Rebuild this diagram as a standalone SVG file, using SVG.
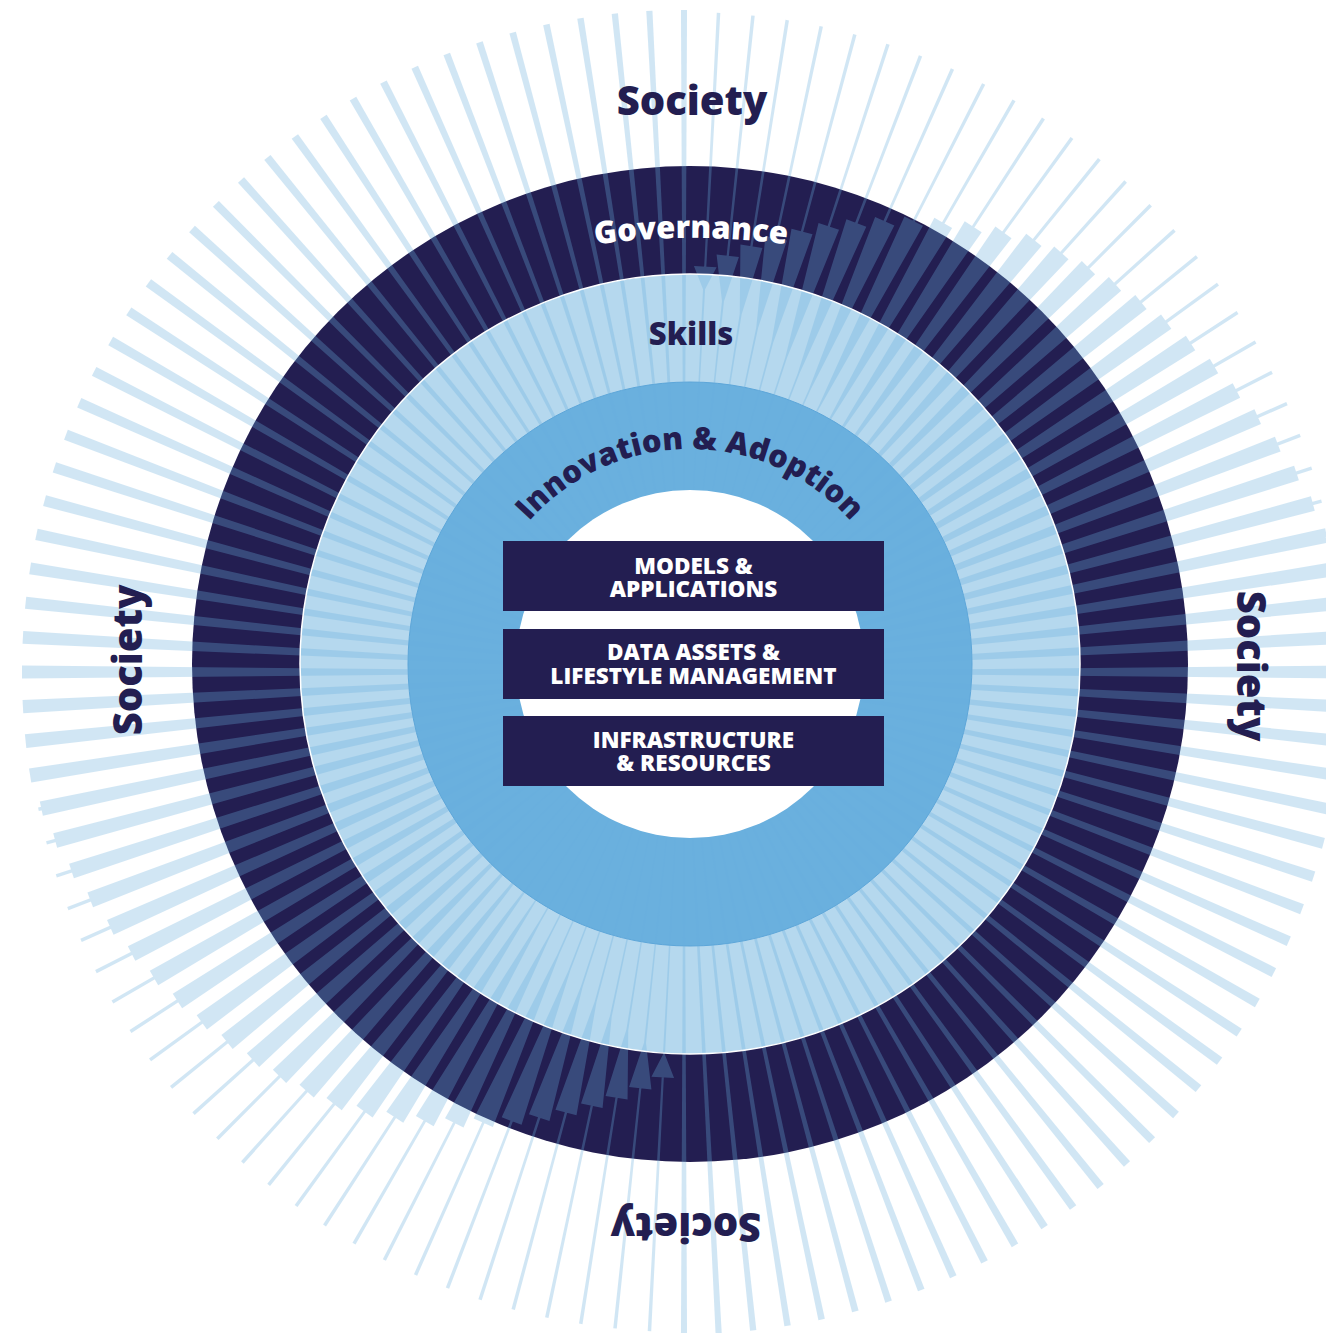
<svg xmlns="http://www.w3.org/2000/svg" xmlns:xlink="http://www.w3.org/1999/xlink" width="1326" height="1333" viewBox="0 0 1326 1333">
<defs>
<style>
.f{font-family:"Open Sans","Noto Sans","DejaVu Sans",sans-serif;font-weight:800}
.soc{font-size:40px;fill:#231e51;text-anchor:middle}
.ring{font-size:31px;text-anchor:middle}
.box{fill:#231e51}
.bt{font-size:22.5px;fill:#ffffff;text-anchor:middle}
</style>
<path id="govArc" d="M391 305.5A700 700 0 0 1 991 305.5"/>
<path id="innArc" d="M475 664A215 215 0 0 1 905 664"/>
</defs>
<rect width="1326" height="1333" fill="#ffffff"/>
<g id="rings">
<circle cx="690" cy="664" r="498" fill="#231e51"/>
<circle cx="690" cy="664" r="390" fill="#b5d8ee"/>
<circle cx="690" cy="664" r="282" fill="#6ab0de" stroke="#5da6d9" stroke-width="1"/>
</g>
<g id="rays" fill="#69afde" opacity="0.3">
<g id="half" transform="translate(684 672)">
<path transform="rotate(3)" d="M0 0L-1.75-660H1.75ZM0-381L-11.34-406H11.34Z"/>
<path transform="rotate(6)" d="M0 0L-1.75-660H1.75ZM0-368.5L-11.24-418.5H11.24Z"/>
<path transform="rotate(9)" d="M0 0L-1.75-660H1.75ZM0-356L-11.13-431H11.13Z"/>
<path transform="rotate(12)" d="M0 0L-1.75-660H1.75ZM0-343.5L-11.01-443.5H11.01Z"/>
<path transform="rotate(15)" d="M0 0L-1.75-660H1.75ZM0-331L-10.89-456H10.89Z"/>
<path transform="rotate(18)" d="M0 0L-1.75-660H1.75ZM0-318.5L-10.77-468.5H10.77Z"/>
<path transform="rotate(21)" d="M0 0L-1.75-660H1.75ZM0-306L-10.64-481H10.64Z"/>
<path transform="rotate(24)" d="M0 0L-1.75-660H1.75ZM0-293.5L-10.51-493.5H10.51Z"/>
<path transform="rotate(27)" d="M0 0L-1.75-660H1.75ZM0-281L-10.37-506H10.37Z"/>
<path transform="rotate(30)" d="M0 0L-1.75-660H1.75ZM0-268.5L-10.24-518.5H10.24Z"/>
<path transform="rotate(33)" d="M0 0L-1.75-660H1.75ZM0-256L-10.09-531H10.09Z"/>
<path transform="rotate(36)" d="M0 0L-1.75-660H1.75ZM0-243.5L-9.96-543.5H9.96Z"/>
<path transform="rotate(39)" d="M0 0L-1.75-660H1.75ZM0-231L-9.81-556H9.81Z"/>
<path transform="rotate(42)" d="M0 0L-1.75-660H1.75ZM0-214L-9.59-564H9.59Z"/>
<path transform="rotate(45)" d="M0 0L-1.75-660H1.75ZM0-197L-9.38-572H9.38Z"/>
<path transform="rotate(48)" d="M0 0L-1.75-660H1.75ZM0-180L-9.17-580H9.17Z"/>
<path transform="rotate(51)" d="M0 0L-1.75-660H1.75ZM0-163L-8.96-588H8.96Z"/>
<path transform="rotate(54)" d="M0 0L-1.75-660H1.75ZM0-146L-8.77-596H8.77Z"/>
<path transform="rotate(57)" d="M0 0L-1.75-660H1.75ZM0-129L-8.58-604H8.58Z"/>
<path transform="rotate(60)" d="M0 0L-1.75-660H1.75ZM0-112L-8.39-612H8.39Z"/>
<path transform="rotate(63)" d="M0 0L-1.75-660H1.75ZM0-95L-8.21-620H8.21Z"/>
<path transform="rotate(66)" d="M0 0L-1.75-660H1.75ZM0-78L-8.03-628H8.03Z"/>
<path transform="rotate(69)" d="M0 0L-1.75-660H1.75ZM0-61L-7.85-636H7.85Z"/>
<path transform="rotate(72)" d="M0 0L-1.75-660H1.75ZM0-44L-7.69-644H7.69Z"/>
<path transform="rotate(75)" d="M0 0L-1.75-660H1.75ZM0-26L-7.52-651H7.52Z"/>
<path transform="rotate(78)" d="M0 0L-1.75-660H1.75ZM0-7L-7.33-657H7.33Z"/>
<path transform="rotate(81)" d="M0 0L-7.15-662H7.15Z"/>
<path transform="rotate(84)" d="M0 0L-6.92-662H6.92Z"/>
<path transform="rotate(87)" d="M0 0L-6.70-662H6.70Z"/>
<path transform="rotate(90)" d="M0 0L-6.49-662H6.49Z"/>
<path transform="rotate(93)" d="M0 0L-6.29-662H6.29Z"/>
<path transform="rotate(96)" d="M0 0L-6.09-662H6.09Z"/>
<path transform="rotate(99)" d="M0 0L-5.90-662H5.90Z"/>
<path transform="rotate(102)" d="M0 0L-5.73-662H5.73Z"/>
<path transform="rotate(105)" d="M0 0L-5.56-662H5.56Z"/>
<path transform="rotate(108)" d="M0 0L-5.40-662H5.40Z"/>
<path transform="rotate(111)" d="M0 0L-5.24-662H5.24Z"/>
<path transform="rotate(114)" d="M0 0L-5.09-662H5.09Z"/>
<path transform="rotate(117)" d="M0 0L-4.95-662H4.95Z"/>
<path transform="rotate(120)" d="M0 0L-4.81-662H4.81Z"/>
<path transform="rotate(123)" d="M0 0L-4.68-662H4.68Z"/>
<path transform="rotate(126)" d="M0 0L-4.56-662H4.56Z"/>
<path transform="rotate(129)" d="M0 0L-4.44-662H4.44Z"/>
<path transform="rotate(132)" d="M0 0L-4.32-662H4.32Z"/>
<path transform="rotate(135)" d="M0 0L-4.21-662H4.21Z"/>
<path transform="rotate(138)" d="M0 0L-4.11-662H4.11Z"/>
<path transform="rotate(141)" d="M0 0L-4.00-662H4.00Z"/>
<path transform="rotate(144)" d="M0 0L-3.91-662H3.91Z"/>
<path transform="rotate(147)" d="M0 0L-3.81-662H3.81Z"/>
<path transform="rotate(150)" d="M0 0L-3.73-662H3.73Z"/>
<path transform="rotate(153)" d="M0 0L-3.65-662H3.65Z"/>
<path transform="rotate(156)" d="M0 0L-3.56-662H3.56Z"/>
<path transform="rotate(159)" d="M0 0L-3.48-662H3.48Z"/>
<path transform="rotate(162)" d="M0 0L-3.41-662H3.41Z"/>
<path transform="rotate(165)" d="M0 0L-3.34-662H3.34Z"/>
<path transform="rotate(168)" d="M0 0L-3.27-662H3.27Z"/>
<path transform="rotate(171)" d="M0 0L-3.21-662H3.21Z"/>
<path transform="rotate(174)" d="M0 0L-3.14-662H3.14Z"/>
<path transform="rotate(177)" d="M0 0L-3.08-662H3.08Z"/>
<path transform="rotate(180)" d="M0 0L-3.03-662H3.03Z"/>
</g>
<use xlink:href="#half" href="#half" transform="rotate(180 684 672)"/>
</g>
<g id="ring-edges">
<circle cx="690" cy="664" r="390" fill="none" stroke="#ffffff" stroke-width="1.5"/>
<circle cx="690" cy="664" r="174" fill="#ffffff"/>
</g>
<g id="society-labels" class="f soc">
<text x="692" y="115">Society</text>
<text transform="translate(142 660) rotate(-90)">Society</text>
<text transform="translate(1237 666) rotate(90)">Society</text>
<text transform="translate(686 1213) rotate(180)">Society</text>
</g>
<g id="governance">
<text class="f ring" fill="#ffffff"><textPath xlink:href="#govArc" href="#govArc" startOffset="50%">Governance</textPath></text>
</g>
<g id="skills">
<text class="f ring" fill="#231e51" x="691" y="345">Skills</text>
</g>
<g id="innovation">
<text class="f ring" fill="#231e51" font-size="30"><textPath xlink:href="#innArc" href="#innArc" startOffset="50%">Innovation &amp; Adoption</textPath></text>
</g>
<g id="box-models">
<rect class="box" x="503" y="541" width="381" height="70"/>
<text class="f bt" x="693.5" y="574">MODELS &amp;</text>
<text class="f bt" x="693.5" y="597">APPLICATIONS</text>
</g>
<g id="box-data">
<rect class="box" x="503" y="629" width="381" height="70"/>
<text class="f bt" x="693.5" y="660">DATA ASSETS &amp;</text>
<text class="f bt" x="693.5" y="684">LIFESTYLE MANAGEMENT</text>
</g>
<g id="box-infra">
<rect class="box" x="503" y="716" width="381" height="70"/>
<text class="f bt" x="693.5" y="748">INFRASTRUCTURE</text>
<text class="f bt" x="693.5" y="771">&amp; RESOURCES</text>
</g>
</svg>
